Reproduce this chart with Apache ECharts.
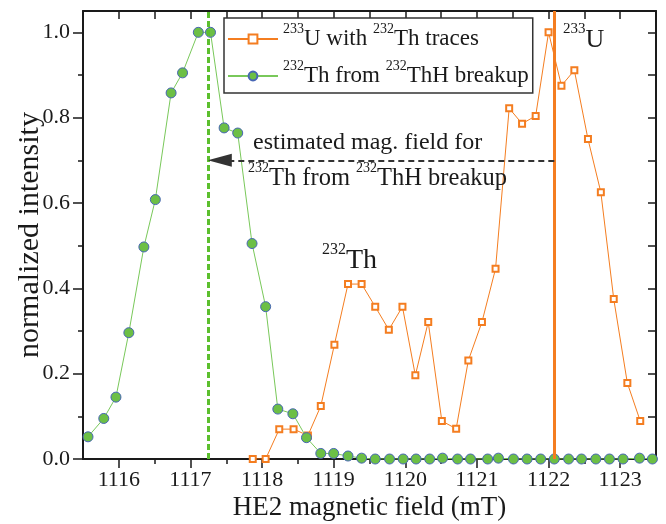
<!DOCTYPE html>
<html>
<head>
<meta charset="utf-8">
<script src="https://cdn.jsdelivr.net/npm/echarts@6/dist/echarts.min.js"></script>
<style>
  html, body { margin: 0; padding: 0; background: #fff; }
  #chart { width: 666px; height: 524px; }
</style>
</head>
<body>
<div id="chart"></div>
<script>
// 233U scan, with 232Th traces
const uField = [1117.87, 1118.05, 1118.24, 1118.44, 1118.64, 1118.82, 1119.01, 1119.2, 1119.39, 1119.58,
    1119.77, 1119.96, 1120.14, 1120.32, 1120.51, 1120.71, 1120.88, 1121.07, 1121.26, 1121.45,
    1121.63, 1121.82, 1122.0, 1122.18, 1122.36, 1122.55, 1122.73, 1122.91, 1123.1, 1123.28]
const uIntensity = [0, 0, 0.07, 0.07, 0.055, 0.124, 0.268, 0.41, 0.41, 0.357,
    0.303, 0.357, 0.196, 0.321, 0.089, 0.071, 0.231, 0.321, 0.446, 0.822,
    0.786, 0.804, 1.0, 0.875, 0.911, 0.75, 0.625, 0.375, 0.178, 0.089]

// 232Th from 232ThH breakup
const thField = [1115.57, 1115.79, 1115.96, 1116.14, 1116.35, 1116.51, 1116.73, 1116.89, 1117.11, 1117.28,
    1117.47, 1117.66, 1117.86, 1118.05, 1118.22, 1118.43, 1118.62, 1118.82, 1119.0, 1119.2,
    1119.39, 1119.58, 1119.78, 1119.97, 1120.15, 1120.34, 1120.52, 1120.73, 1120.91, 1121.15,
    1121.3, 1121.51, 1121.7, 1121.89, 1122.08, 1122.28, 1122.46, 1122.66, 1122.85, 1123.04,
    1123.27, 1123.45]
const thIntensity = [0.052, 0.095, 0.145, 0.296, 0.497, 0.608, 0.858, 0.905, 1.0, 1.0,
    0.776, 0.764, 0.505, 0.357, 0.117, 0.106, 0.05, 0.013, 0.013, 0.007,
    0.002, 0, 0, 0, 0, 0, 0.002, 0, 0, 0,
    0.002, 0, 0, 0, 0, 0, 0, 0, 0, 0,
    0.002, 0]

const xMajorTicks = [1116, 1117, 1118, 1119, 1120, 1121, 1122, 1123]
const xMinorTicks = [1116.5, 1117.5, 1118.5, 1119.5, 1120.5, 1121.5, 1122.5]
const xTopTicks = [1116, 1116.5, 1117, 1117.5, 1118, 1118.5, 1119, 1119.5, 1120, 1120.5,
    1121, 1121.5, 1122, 1122.5, 1123]
const yMajorTicks = [0, 0.2, 0.4, 0.6, 0.8, 1.0]
const yMinorTicks = [0.1, 0.3, 0.5, 0.7, 0.9]
const yRightTicks = [0.1, 0.2, 0.3, 0.4, 0.5, 0.6, 0.7, 0.8, 0.9, 1.0]

const thFieldEstimate = 1117.25   // green dashed marker
const uPeakField = 1122.08        // orange marker
const arrowLevel = 0.70
const arrowEndField = 1117.41     // centre of the arrow head

const font = 'Liberation Serif'
const ink = '#1a1a1a'
const orange = '#f47d20'
const green = '#6cbf45'

const legendLabels = {
    U: '{sup|233}U with {sup|232}Th traces',
    Th: '{sup|232}Th from {sup|232}ThH breakup'
}

const axisLineStyle = { color: ink, width: 2 }
const tickStyle = { color: ink, width: 1.5 }
const tickLabelStyle = { fontFamily: font, fontSize: 22, color: ink }

const chart = echarts.init(document.getElementById('chart'))

chart.setOption({
    animation: false,
    backgroundColor: '#fff',
    textStyle: { fontFamily: font, color: ink },
    grid: { left: 83, right: 10, top: 11, bottom: 65, outerBoundsMode: 'none' },
    legend: {
        orient: 'vertical',
        left: 224,
        top: 18,
        padding: [4, 4, 2, 3],
        itemGap: 5,
        itemWidth: 50,
        itemHeight: 11,
        borderColor: '#333',
        borderWidth: 1.5,
        backgroundColor: '#fff',
        data: ['U', 'Th'],
        formatter: name => legendLabels[name],
        textStyle: {
            fontFamily: font, fontSize: 23, color: ink, lineHeight: 30,
            rich: { sup: { fontFamily: font, fontSize: 14, padding: [0, 0, 20, 0] } }
        }
    },
    xAxis: [
        {
            type: 'value', position: 'bottom', min: 1115.5, max: 1123.5,
            name: 'HE2 magnetic field (mT)', nameLocation: 'middle', nameGap: 35, nameMoveOverlap: false,
            nameTextStyle: { fontFamily: font, fontSize: 27, color: ink },
            axisLine: { onZero: false, lineStyle: axisLineStyle },
            axisTick: { customValues: xMajorTicks, length: 9, lineStyle: tickStyle },
            axisLabel: {
                customValues: xMajorTicks, margin: 10, ...tickLabelStyle,
                formatter: v => String(v)
            },
            splitLine: { show: false }
        },
        {
            type: 'value', position: 'bottom', min: 1115.5, max: 1123.5,
            axisLine: { show: false, onZero: false },
            axisTick: { customValues: xMinorTicks, length: 5, lineStyle: tickStyle },
            axisLabel: { show: false },
            splitLine: { show: false }
        },
        {
            type: 'value', position: 'top', min: 1115.5, max: 1123.5,
            axisLine: { onZero: false, lineStyle: axisLineStyle },
            axisTick: { inside: true, customValues: xTopTicks, length: 8, lineStyle: tickStyle },
            axisLabel: { show: false },
            splitLine: { show: false }
        }
    ],
    yAxis: [
        {
            type: 'value', position: 'left', min: 0, max: 1.05,
            name: 'normalized intensity', nameLocation: 'middle', nameGap: 38, nameMoveOverlap: false,
            nameTextStyle: { fontFamily: font, fontSize: 30, color: ink },
            axisLine: { show: true, onZero: false, lineStyle: axisLineStyle },
            axisTick: { show: true, customValues: yMajorTicks, length: 10, lineStyle: tickStyle },
            axisLabel: {
                customValues: yMajorTicks, margin: 13, ...tickLabelStyle,
                formatter: v => v.toFixed(1)
            },
            splitLine: { show: false }
        },
        {
            type: 'value', position: 'left', min: 0, max: 1.05,
            axisLine: { show: false, onZero: false },
            axisTick: { show: true, customValues: yMinorTicks, length: 5, lineStyle: tickStyle },
            axisLabel: { show: false },
            splitLine: { show: false }
        },
        {
            type: 'value', position: 'right', min: 0, max: 1.05,
            axisLine: { show: true, onZero: false, lineStyle: axisLineStyle },
            axisTick: { show: true, inside: true, customValues: yRightTicks, length: 8, lineStyle: tickStyle },
            axisLabel: { show: false },
            splitLine: { show: false }
        }
    ],
    series: [
        {
            name: 'U',
            type: 'line',
            data: uField.map((x, i) => [x, uIntensity[i]]),
            symbol: 'rect',
            symbolSize: 6,
            itemStyle: { color: '#fff', borderColor: orange, borderWidth: 2 },
            lineStyle: { color: orange, width: 1 },
            z: 3,
            markLine: {
                silent: true,
                symbol: 'none',
                label: { show: false },
                lineStyle: { color: orange, width: 3, type: 'solid' },
                data: [{ xAxis: uPeakField }]
            }
        },
        {
            name: 'Th',
            type: 'line',
            data: thField.map((x, i) => [x, thIntensity[i]]),
            symbol: 'circle',
            symbolSize: 10,
            itemStyle: { color: green, borderColor: '#4766b5', borderWidth: 1 },
            lineStyle: { color: '#79c85a', width: 1 },
            z: 4,
            markLine: {
                silent: true,
                symbol: 'none',
                label: { show: false },
                data: [
                    { xAxis: thFieldEstimate, lineStyle: { color: '#5cbf2e', width: 3, type: [6, 3] } },
                    [
                        { coord: [uPeakField, arrowLevel], symbol: 'none', lineStyle: { color: '#333', width: 2, type: [6, 4] } },
                        { coord: [arrowEndField, arrowLevel], symbol: 'triangle', symbolSize: [13, 24], itemStyle: { color: '#333' } }
                    ]
                ]
            }
        }
    ],
    graphic: [
        {
            type: 'text', x: 253, y: 142.6, z: 10,
            style: { text: 'estimated mag. field for', fontFamily: font, fontSize: 24, fill: ink, align: 'left', verticalAlign: 'middle' }
        },
        {
            type: 'text', x: 248, y: 178.4, z: 10,
            style: {
                text: '{sup|232}Th from {sup|232}ThH breakup', fontFamily: font, fontSize: 24.5, fill: ink,
                align: 'left', verticalAlign: 'middle',
                rich: { sup: { fontFamily: font, fontSize: 14, fill: ink, padding: [0, 0, 21, 0] } }
            }
        },
        {
            type: 'text', x: 563, y: 40.2, z: 10,
            style: {
                text: '{sup|233}U', fontFamily: font, fontSize: 26, fill: ink,
                align: 'left', verticalAlign: 'middle',
                rich: { sup: { fontFamily: font, fontSize: 15, fill: ink, padding: [0, 0, 22, 0] } }
            }
        },
        {
            type: 'text', x: 322, y: 260.5, z: 10,
            style: {
                text: '{sup|232}Th', fontFamily: font, fontSize: 28, fill: ink,
                align: 'left', verticalAlign: 'middle',
                rich: { sup: { fontFamily: font, fontSize: 16, fill: ink, padding: [0, 0, 22, 0] } }
            }
        }
    ]
})

window.addEventListener('resize', () => chart.resize())
</script>
</body>
</html>
